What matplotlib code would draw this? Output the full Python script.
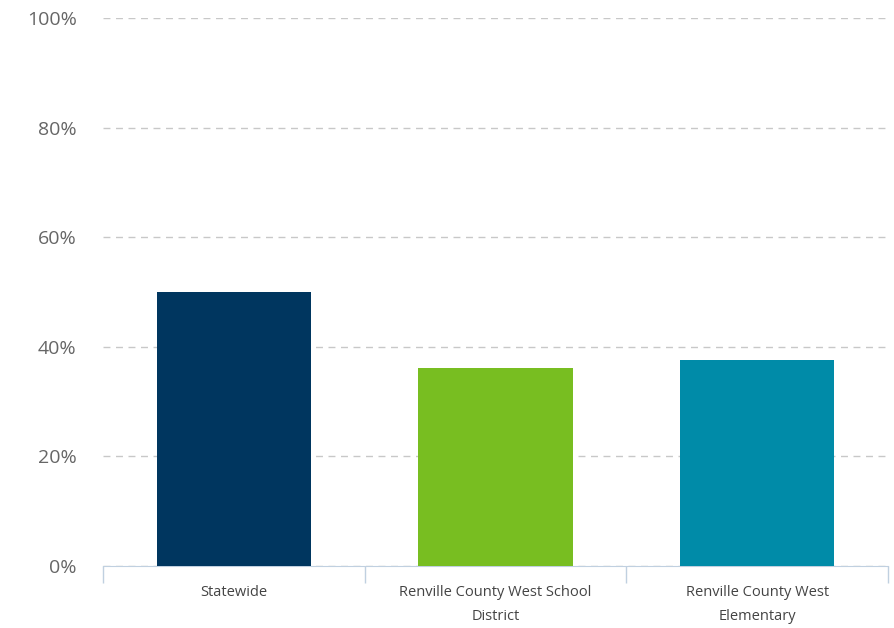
import matplotlib.pyplot as plt
from matplotlib.ticker import FuncFormatter

categories = ['Statewide', 'Renville County West School\nDistrict', 'Renville County West\nElementary']
values = [50.0, 36.1, 37.6]
colors = ['#00365f', '#78be21', '#008ba8']
y_ticks = [0, 20, 40, 60, 80, 100]

plt.rcParams['font.family'] = ['Open Sans', 'DejaVu Sans']

fig = plt.figure(figsize=(8.94, 6.28), dpi=100)
ax = fig.add_axes([0.1152, 0.0987, 0.8781, 0.8726])

x = range(len(categories))
ax.bar(x, values, width=0.59, color=colors, zorder=3)

ax.set_xlim(-0.5, len(categories) - 0.5)
ax.set_ylim(0, 100)
ax.set_yticks(y_ticks)
ax.yaxis.set_major_formatter(FuncFormatter(lambda v, p: '{:.0f}%'.format(v)))
ax.grid(axis='y', color='#c8c8c8', linestyle=(0, (5, 4)), linewidth=1, zorder=0)
ax.tick_params(axis='y', length=0, pad=19, labelsize=14, labelcolor='#666666')

ax.set_xticks(x)
ax.set_xticklabels(categories, fontsize=10.5, color='#444444', linespacing=1.75)
ax.tick_params(axis='x', length=0, pad=14)
ax.set_xticks([-0.5, 0.5, 1.5, 2.5], minor=True)
ax.tick_params(axis='x', which='minor', length=12, color='#c0d0e0', width=1)

for s in ['top', 'right', 'left']:
    ax.spines[s].set_visible(False)
ax.spines['bottom'].set_color('#c0d0e0')

fig.savefig('out.png', dpi=100)
